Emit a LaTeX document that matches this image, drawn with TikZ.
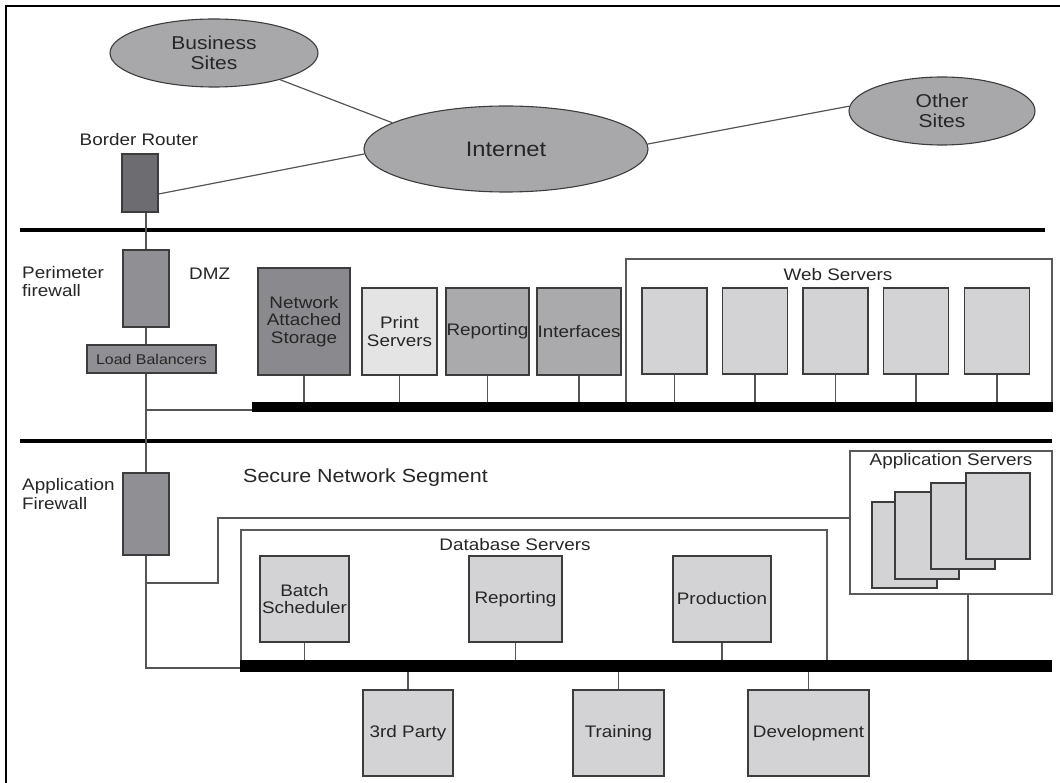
\documentclass[tikz,border=0pt]{standalone}
\usepackage{fontspec}
\setmainfont{Liberation Sans}[FakeStretch=1.13]
\usetikzlibrary{shapes.geometric}
\definecolor{txtc}{HTML}{262626}
\definecolor{bord}{HTML}{3C3C3C}
\definecolor{connc}{HTML}{555555}
\definecolor{framec}{HTML}{5A5A5A}
\definecolor{ellfill}{HTML}{A8A8AB}
\definecolor{routerfill}{HTML}{6C6C71}
\definecolor{fwfill}{HTML}{909094}
\definecolor{nasfill}{HTML}{8A8A8E}
\definecolor{printfill}{HTML}{E4E4E4}
\definecolor{midfill}{HTML}{AAAAAD}
\definecolor{lightfill}{HTML}{D3D3D5}
\begin{document}
\begin{tikzpicture}[x=1pt,y=-1pt,
  lbl/.style={text=txtc, inner sep=0pt, font=\fontsize{16.7}{17.8}\selectfont},
  ell/.style={ellipse, draw=bord, line width=1.1pt, fill=ellfill, inner sep=0pt,
    text=txtc, align=center, font=\fontsize{18.6}{19.8}\selectfont},
  box/.style={draw=bord, line width=1.2pt, inner sep=0pt, text=txtc, align=center,
    font=\fontsize{16.7}{17.8}\selectfont},
  frame/.style={draw=framec, line width=1.2pt, inner sep=0pt},
  conn/.style={draw=connc, line width=1.2pt},
  bar/.style={fill=black, inner sep=0pt, draw=none}]
\useasboundingbox (0,0) rectangle (1060,783);
% outer frame (top and left edges visible)
\draw[line width=2.5pt, black] (6,783) -- (6,6) -- (1060,6);

% ---- Internet zone ----
\node[ell, minimum width=208pt, minimum height=68pt] (bs) at (214,53) {Business\\Sites};
\node[ell, minimum width=284pt, minimum height=86pt, font=\fontsize{21}{22}\selectfont] (inet) at (506,149) {Internet};
\node[ell, minimum width=186pt, minimum height=68pt] (other) at (942,111) {Other\\Sites};
\node[lbl] (brlabel) at (139,140) {Border Router};
\node[box, fill=routerfill, minimum width=36pt, minimum height=58pt] (router) at (140,183) {};

\draw[conn] (bs.-22) -- (inet.167);
\draw[conn] (inet.2) -- (other.177);
\draw[conn] ([yshift=-11pt]router.east) -- (inet.182);

% separators
\node[bar, minimum width=1025pt, minimum height=4.6pt] (sep1) at (532.5,230) {};
\node[bar, minimum width=1032pt, minimum height=4.8pt] (sep2) at (536,441) {};

% ---- DMZ ----
\node[lbl, align=left, anchor=west, font=\fontsize{16.7}{17.5}\selectfont] (pflabel) at (22,281.5) {Perimeter\\firewall};
\node[box, fill=fwfill, minimum width=46pt, minimum height=77pt] (pfw) at (146,288.5) {};
\node[lbl, anchor=west] (dmz) at (189,274) {DMZ};
\node[box, fill=fwfill, minimum width=129pt, minimum height=28pt, font=\fontsize{14.1}{15}\selectfont] (lb) at (151.5,359) {Load Balancers};

\node[frame, minimum width=426pt, minimum height=148pt] (webframe) at (839,333) {};
\node[lbl] (weblabel) at (838,275) {Web Servers};

\node[box, fill=nasfill, minimum width=92pt, minimum height=107pt] (nas) at (304,321.5) {Network\\Attached\\Storage};
\node[box, fill=printfill, minimum width=75pt, minimum height=87pt] (print) at (399.5,331.5) {Print\\Servers};
\node[box, fill=midfill, minimum width=83pt, minimum height=87pt] (rep1) at (487.5,331.5) {Reporting};
\node[box, fill=midfill, minimum width=84pt, minimum height=87pt] (intf) at (579,331.5) {Interfaces};

\node[box, fill=lightfill, minimum width=65pt, minimum height=86pt] (w1) at (674.5,331) {};
\node[box, fill=lightfill, minimum width=65pt, minimum height=86pt] (w2) at (755,331) {};
\node[box, fill=lightfill, minimum width=65pt, minimum height=86pt] (w3) at (835.5,331) {};
\node[box, fill=lightfill, minimum width=65pt, minimum height=86pt] (w4) at (916,331) {};
\node[box, fill=lightfill, minimum width=65pt, minimum height=86pt] (w5) at (997,331) {};

\node[bar, minimum width=801pt, minimum height=10.5pt] (dmzbus) at (652.5,407) {};

\foreach \n in {nas,print,rep1,intf,w1,w2,w3,w4,w5}
  \draw[conn] (\n.south) -- (\n.south |- dmzbus.north);

% vertical backbone
\draw[conn] (pfw.north) -- (pfw.north |- router.south);
\draw[conn] (pfw.south) -- (pfw.south |- lb.north);
\coordinate (tap1) at (146,410);
\node[box, fill=fwfill, minimum width=46pt, minimum height=82pt] (afw) at (146,514) {};
\draw[conn] (pfw.south |- lb.south) -- (afw.north);
\draw[conn] (tap1) -- (tap1 -| dmzbus.west);

% ---- Secure segment ----
\node[lbl, align=left, anchor=west, font=\fontsize{16.7}{18.2}\selectfont] (aflabel) at (22,494) {Application\\Firewall};
\node[lbl, anchor=west, font=\fontsize{19}{20}\selectfont] (seclabel) at (243,478) {Secure Network Segment};

\node[frame, minimum width=202pt, minimum height=143pt] (appframe) at (951,522.5) {};
\node[lbl] (applabel) at (951,461) {Application Servers};
\node[box, fill=lightfill, minimum width=65pt, minimum height=86pt] (a1) at (904.5,545) {};
\node[box, fill=lightfill, minimum width=64pt, minimum height=87pt] (a2) at (927,535.5) {};
\node[box, fill=lightfill, minimum width=64pt, minimum height=86pt] (a3) at (963,526) {};
\node[box, fill=lightfill, minimum width=64pt, minimum height=86pt] (a4) at (998,516) {};

\node[frame, minimum width=586pt, minimum height=136pt] (dbframe) at (534,598) {};
\node[lbl] (dblabel) at (515,545) {Database Servers};
\node[box, fill=lightfill, minimum width=89pt, minimum height=86pt] (batch) at (304.5,599) {Batch\\Scheduler};
\node[box, fill=lightfill, minimum width=93pt, minimum height=86pt] (rep2) at (515.5,599) {Reporting};
\node[box, fill=lightfill, minimum width=98pt, minimum height=86pt] (prod) at (722,599) {Production};

\node[bar, minimum width=812pt, minimum height=12pt] (dbbus) at (646,666) {};

\node[box, fill=lightfill, minimum width=90pt, minimum height=86pt] (third) at (408,733) {3rd Party};
\node[box, fill=lightfill, minimum width=91pt, minimum height=86pt] (train) at (618.5,733) {Training};
\node[box, fill=lightfill, minimum width=121pt, minimum height=86pt] (dev) at (808.5,733) {Development};

\foreach \n in {batch,rep2,prod}
  \draw[conn] (\n.south) -- (\n.south |- dbbus.north);
\foreach \n in {third,train,dev}
  \draw[conn] (\n.north) -- (\n.north |- dbbus.south);
\draw[conn] (appframe.south -| 968,0) -- (dbbus.north -| 968,0);

\coordinate (tap2) at (146,583);
\draw[conn] (tap2) -- ++(72,0) |- ([yshift=4.5pt]appframe.west);
\draw[conn] (afw.south) |- ([yshift=-2pt]dbbus.west);
\end{tikzpicture}
\end{document}
